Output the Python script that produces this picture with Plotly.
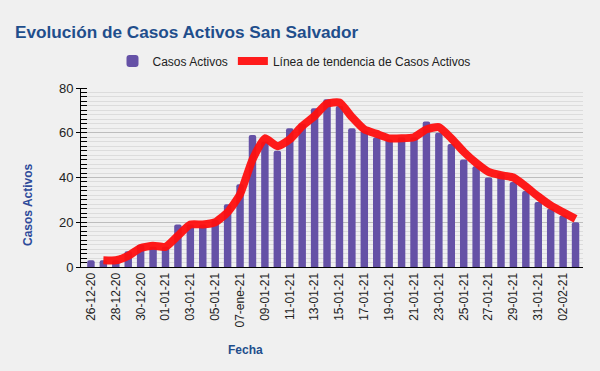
import plotly.graph_objects as go

fechas = ["26-12-20", "27-12-20", "28-12-20", "29-12-20", "30-12-20", "31-12-20",
          "01-01-21", "02-01-21", "03-01-21", "04-01-21", "05-01-21", "06-01-21",
          "07-ene-21", "08-01-21", "09-01-21", "10-01-21", "11-01-21", "12-01-21",
          "13-01-21", "14-01-21", "15-01-21", "16-01-21", "17-01-21", "18-01-21",
          "19-01-21", "20-01-21", "21-01-21", "22-01-21", "23-01-21", "24-01-21",
          "25-01-21", "26-01-21", "27-01-21", "28-01-21", "29-01-21", "30-01-21",
          "31-01-21", "01-02-21", "02-02-21", "03-02-21"]

casos_activos = [3, 3, 3, 7, 10, 9, 9, 19, 19, 19, 21, 28, 37, 59, 56, 52, 62, 64,
                 71, 75, 72, 62, 61, 58, 57, 58, 58, 65, 60, 55, 48, 45, 40, 42,
                 38, 34, 29, 26, 23, 20]

tendencia = [None, 3, 3, 5, 8.5, 9.5, 9, 14, 19, 19, 20, 24.5, 32.5, 48, 57.5, 54,
             57, 63, 67.5, 73, 73.5, 67, 61.5, 59.5, 57.5, 57.5, 58, 61.5, 62.5,
             57.5, 51.5, 46.5, 42.5, 41, 40, 36, 31.5, 27.5, 24.5, 21.5]

tick_labels = fechas[::2]

W, H = 600, 371
L, R, T, B = 81, 583, 88, 267  # plot area in pixels

fig = go.Figure()
fig.add_trace(go.Bar(
    x=fechas, y=casos_activos, name="Casos Activos",
    marker=dict(color="#6551a6", cornerradius=2, line=dict(width=0)),
))
fig.add_trace(go.Scatter(
    x=fechas, y=tendencia, name="Línea de tendencia de Casos Activos",
    mode="lines", line=dict(color="#ff0f0f", width=8, shape="spline", smoothing=0.5),
    opacity=0.95,
))

fig.update_layout(
    width=W, height=H,
    paper_bgcolor="#f0f0f0", plot_bgcolor="#f0f0f0",
    margin=dict(l=L, r=W - R, t=T, b=H - B, autoexpand=False),
    font=dict(family="Liberation Sans, Arial, sans-serif", size=12, color="#222222"),
    bargap=0.4,
    showlegend=True,
    title=dict(
        text="<b>Evolución de Casos Activos San Salvador</b>",
        font=dict(size=17.2, color="#1f4e8c", family="Liberation Sans, Arial, sans-serif"),
        x=15 / W, xanchor="left", xref="container",
        y=1 - 32 / H, yanchor="middle", yref="container",
    ),
    legend=dict(
        orientation="h", xref="container", yref="container",
        x=0.49, xanchor="center", y=1 - 61 / H, yanchor="middle",
        font=dict(size=12, color="#222222"),
        bgcolor="rgba(0,0,0,0)",
    ),
    annotations=[
        dict(text="<b>Fecha</b>", xref="paper", yref="paper",
             x=(245 - L) / (R - L), y=-(350 - B) / (B - T),
             xanchor="center", yanchor="middle", showarrow=False,
             font=dict(size=12, color="#1f4e8c")),
        dict(text="<b>Casos Activos</b>", xref="paper", yref="paper",
             x=-(L - 28) / (R - L), y=(B - 205) / (B - T),
             xanchor="center", yanchor="middle", showarrow=False, textangle=-90,
             font=dict(size=12, color="#2e4a9a")),
    ],
    xaxis=dict(
        type="category", tickmode="array", tickvals=tick_labels, ticktext=tick_labels,
        range=[-0.8, 39.6], automargin=False,
        tickangle=-90, showgrid=False, showline=True, linecolor="#000000", linewidth=1,
        ticks="", tickfont=dict(size=12, color="#222222"),
    ),
    yaxis=dict(
        range=[0, 80], dtick=20, showline=True, linecolor="#000000", linewidth=1,
        ticks="outside", ticklen=4, tickcolor="#000000", automargin=False,
        showgrid=True, gridcolor="#bdbdbd", gridwidth=1, zeroline=False,
        tickfont=dict(size=13, color="#222222"),
        minor=dict(dtick=2, showgrid=True, gridcolor="#dcdcdc", ticks="inside",
                   ticklen=6, tickcolor="#000000"),
    ),
    yaxis2=dict(
        overlaying="y", side="left", range=[0, 80], dtick=20,
        showticklabels=False, showgrid=False, zeroline=False, showline=False,
        ticks="inside", ticklen=7, tickcolor="#000000",
    ),
)

fig.write_html("out.html", config={"displayModeBar": False},
               post_script="document.body.style.margin='0';")
